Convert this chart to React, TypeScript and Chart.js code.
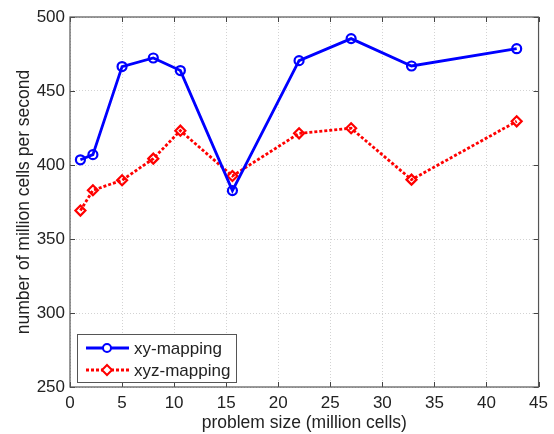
import React, { useEffect, useRef } from "react";
import { Chart, registerables } from "chart.js";

Chart.register(...registerables);

const problemSize = [1, 2.2, 5, 8, 10.6, 15.6, 22, 27, 32.8, 42.9];
const xyMapping = [403.5, 407, 466.5, 472.3, 463.8, 382.7, 470.5, 485.4, 466.9, 478.6];
const xyzMapping = [369.2, 382.9, 389.7, 404.3, 423.2, 392.6, 421.4, 424.8, 390.1, 429.5];
const seriesNames = ["xy-mapping", "xyz-mapping"];
const xTitle = "problem size (million cells)";
const yTitle = "number of million cells per second";

const FONT = "'Liberation Sans', Arial, sans-serif";

const boxPlugin = {
  id: "matlabBox",
  afterDraw(chart: any) {
    const { ctx, chartArea: a, scales } = chart;
    ctx.save();
    ctx.strokeStyle = "#444";
    ctx.lineWidth = 1;
    const xs = scales.x;
    const ys = scales.y;
    xs.ticks.forEach((t: any) => {
      const px = Math.round(xs.getPixelForValue(t.value)) + 0.5;
      ctx.beginPath();
      ctx.moveTo(px, a.bottom);
      ctx.lineTo(px, a.bottom - 5);
      ctx.moveTo(px, a.top);
      ctx.lineTo(px, a.top + 5);
      ctx.stroke();
    });
    ys.ticks.forEach((t: any) => {
      const py = Math.round(ys.getPixelForValue(t.value)) + 0.5;
      ctx.beginPath();
      ctx.moveTo(a.left, py);
      ctx.lineTo(a.left + 5, py);
      ctx.moveTo(a.right, py);
      ctx.lineTo(a.right - 5, py);
      ctx.stroke();
    });
    ctx.strokeStyle = "#555";
    ctx.lineWidth = 1.2;
    ctx.strokeRect(a.left, a.top, a.right - a.left, a.bottom - a.top);

    // legend inside
    const lx = a.left + 7;
    const ly = a.bottom - 53;
    const lw = 159;
    const lh = 48;
    ctx.fillStyle = "#fff";
    ctx.fillRect(lx, ly, lw, lh);
    ctx.strokeStyle = "#555";
    ctx.lineWidth = 1;
    ctx.strokeRect(lx + 0.5, ly + 0.5, lw, lh);
    const items = chart.data.datasets;
    items.forEach((ds: any, i: number) => {
      const y = ly + 14 + i * 22;
      ctx.strokeStyle = ds.borderColor;
      ctx.lineWidth = 2.8;
      ctx.setLineDash(ds.borderDash || []);
      ctx.beginPath();
      ctx.moveTo(lx + 9, y);
      ctx.lineTo(lx + 52, y);
      ctx.stroke();
      ctx.setLineDash([]);
      ctx.lineWidth = 2;
      const cx = lx + 30;
      ctx.beginPath();
      if (ds.pointStyle === "rectRot") {
        const r = 5;
        ctx.moveTo(cx, y - r);
        ctx.lineTo(cx + r, y);
        ctx.lineTo(cx, y + r);
        ctx.lineTo(cx - r, y);
        ctx.closePath();
      } else {
        ctx.arc(cx, y, 4, 0, Math.PI * 2);
      }
      ctx.fillStyle = "#fff";
      ctx.fill();
      ctx.stroke();
      ctx.fillStyle = "#222";
      ctx.font = `17px ${FONT}`;
      ctx.textBaseline = "middle";
      ctx.textAlign = "left";
      ctx.fillText(ds.label, lx + 57, y + 1);
    });
    ctx.restore();
  },
};

export default function App() {
  const ref = useRef<HTMLCanvasElement>(null);
  useEffect(() => {
    document.body.style.margin = "0";
    const c = new Chart(ref.current!, {
      type: "line",
      data: {
        datasets: [
          {
            label: seriesNames[0],
            data: problemSize.map((x, i) => ({ x, y: xyMapping[i] })),
            borderColor: "#0000ff",
            backgroundColor: "rgba(0,0,0,0)",
            borderWidth: 2.8,
            pointStyle: "circle",
            pointRadius: 4.5,
            pointBorderWidth: 2.2,
            pointBackgroundColor: "rgba(0,0,0,0)",
            pointBorderColor: "#0000ff",
            tension: 0,
          },
          {
            label: seriesNames[1],
            data: problemSize.map((x, i) => ({ x, y: xyzMapping[i] })),
            borderColor: "#ff0000",
            backgroundColor: "rgba(0,0,0,0)",
            borderWidth: 2.8,
            borderDash: [3, 2],
            pointStyle: "rectRot",
            pointRadius: 5,
            pointBorderWidth: 2.2,
            pointBackgroundColor: "rgba(0,0,0,0)",
            pointBorderColor: "#ff0000",
            tension: 0,
          },
        ],
      },
      options: {
        animation: false,
        responsive: false,
        layout: { padding: { top: 17, right: 12, left: 0, bottom: 0 } },
        plugins: { legend: { display: false }, tooltip: { enabled: false } },
        scales: {
          x: {
            type: "linear",
            min: 0,
            max: 45,
            ticks: { stepSize: 5, color: "#222", font: { size: 17, family: FONT }, padding: 6, maxRotation: 0 },
            grid: { drawTicks: false, color: "#c8c8c8", lineWidth: 0.8 },
            border: { display: false, dash: [1, 2] },
            title: { display: true, text: xTitle, color: "#222", font: { size: 17.5, family: FONT }, padding: { top: 0, bottom: 0 } },
            afterFit: (s: any) => { s.height = 47; },
          },
          y: {
            type: "linear",
            min: 250,
            max: 500,
            ticks: { stepSize: 50, color: "#222", font: { size: 17, family: FONT }, padding: 5 },
            grid: { drawTicks: false, color: "#c8c8c8", lineWidth: 0.8 },
            border: { display: false, dash: [1, 2] },
            title: { display: true, text: yTitle, color: "#222", font: { size: 17.5, family: FONT }, padding: { top: 14, bottom: 0 } },
            afterFit: (s: any) => { s.width = 70; },
          },
        },
      },
      plugins: [boxPlugin],
    });
    return () => c.destroy();
  }, []);
  return (
    <div style={{ position: "absolute", left: 0, top: 0, width: 554, height: 434, background: "#fff" }}>
      <canvas ref={ref} width={554} height={434} />
    </div>
  );
}
